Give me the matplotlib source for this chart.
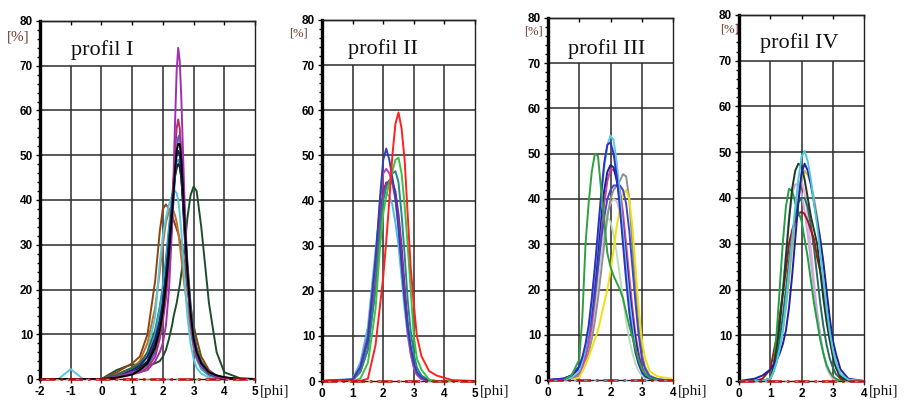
import matplotlib
matplotlib.use("Agg")
import matplotlib.pyplot as plt
from matplotlib.ticker import MultipleLocator

# ---------------- data ----------------
# Panel I  (phi grid, % values)
P1_X = [-2, -1.4, -1, -0.6, 0, 0.5, 1, 1.25, 1.5, 1.75, 1.9, 2, 2.1, 2.2, 2.3, 2.35,
        2.4, 2.45, 2.5, 2.55, 2.6, 2.65, 2.7, 2.8, 2.9, 3, 3.1, 3.25, 3.5, 3.75, 4, 4.5, 5]
P1_DKGREEN2 = [0, 0, 0, 0, 0, 2, 3.3, 3, 3, 3.5, 4, 5, 6.5, 9, 12, 14,
               15.5, 17, 19, 21, 23.5, 26, 29, 36, 41, 43, 42, 34, 17, 6, 1.5, 0.2, 0]
P1_BROWN = [0, 0, 0, 0, 0, 1.5, 3.5, 5, 10, 22, 33, 38, 39, 38, 36.5, 35.5,
            34.5, 33.5, 32.5, 31, 30, 28, 26, 20, 16, 12, 9, 5, 2, 0.7, 0.3, 0, 0]
P1_ORANGE = [0, 0, 0, 0, 0, 1, 2.5, 4, 8, 16, 24, 30, 35, 37.5, 38, 37.5,
             36.5, 35, 33, 30, 27, 24, 21, 16, 11, 7, 4.5, 2.5, 0.8, 0.3, 0, 0, 0]
P1_CYAN = [0, 0, 2.2, 0, 0, 0.5, 2, 3, 6, 14, 26, 32, 36, 39, 41, 42,
           42, 41.5, 40, 37, 33, 28, 23, 14, 8, 4.5, 2.5, 1.2, 0.3, 0, 0, 0, 0]
P1_DKGREEN = [0, 0, 0, 0, 0, 1, 2.5, 3.5, 6, 11, 16, 20, 26, 33, 40, 43,
              45.5, 47, 48, 47.5, 45, 41, 36, 26, 17, 11, 7, 4, 1.5, 0.7, 0.3, 0, 0]
P1_TEAL = [0, 0, 0, 0, 0, 0.5, 2, 3, 5, 10, 16, 21, 27, 34, 41, 44,
           47, 48.5, 49, 48, 45, 40, 34, 22, 13, 7.5, 4.5, 2.2, 0.8, 0.3, 0, 0, 0]
P1_BLACK2 = [0, 0, 0, 0, 0, 0.5, 1.5, 2.5, 4, 8, 13, 17, 23, 30, 38, 42,
             45.5, 47.5, 48, 47.5, 45, 40, 35, 24, 15, 9, 5.5, 3, 1.2, 0.5, 0.2, 0, 0]
P1_NAVY = [0, 0, 0, 0, 0, 0.5, 2, 3, 5, 9, 13, 17, 23, 31, 39, 44,
           48, 50, 51, 50, 46, 40, 33, 22, 14, 9, 5, 3, 1.2, 0.5, 0.2, 0, 0]
P1_BLACK = [0, 0, 0, 0, 0, 0.3, 1, 2, 3.5, 7, 11, 15, 21, 28, 37, 42,
            47, 51, 52.5, 52.5, 49, 43, 36, 24, 15, 9, 6, 3.5, 1.5, 0.8, 0.4, 0, 0]
P1_BLUE = [0, 0, 0, 0, 0, 0.5, 1.5, 2, 3, 6, 10, 14, 19, 26, 35, 40,
           46, 51, 54, 54.5, 51, 45, 38, 25, 16, 10, 6, 3.5, 1.5, 0.8, 0.3, 0, 0]
P1_MAROON = [0, 0, 0, 0, 0, 0.3, 1, 1.5, 2.5, 5, 9, 13, 18, 26, 37, 44,
             51, 56, 58, 56, 50, 43, 35, 22, 13, 8, 5, 3, 1.3, 0.5, 0.2, 0, 0]
P1_PURPLE = [0, 0, 0, 0, 0, 0.5, 1.5, 1.5, 2, 4, 6, 8, 12, 20, 34, 46,
             58, 69, 74, 71, 63, 52, 41, 24, 14, 8, 5, 3, 1.2, 0.5, 0.2, 0, 0]

# Panel II
P2_X = [0, 1, 1.25, 1.5, 1.75, 1.9, 2, 2.1, 2.2, 2.3, 2.4, 2.5, 2.6, 2.7, 2.8, 2.9,
        3, 3.1, 3.25, 3.5, 3.75, 4, 4.25, 5]
P2_CYAN = [0, 0.5, 4, 12, 29, 38, 41, 41.5, 41, 39, 35, 30, 23, 16, 10, 6, 3, 1.5, 0.5, 0, 0, 0, 0, 0]
P2_DKPURPLE = [0, 0.3, 3, 10, 26, 37, 42, 44, 44, 44, 42, 37, 30, 21, 13, 7, 3.5, 1.5, 0.5, 0, 0, 0, 0, 0]
P2_MAROON = [0, 0.2, 2, 7, 22, 35, 41, 43.5, 44.5, 44, 41, 36, 28, 20, 12, 7, 3.5, 1.5, 0.5, 0, 0, 0, 0, 0]
P2_TEAL = [0, 0.2, 2, 7, 20, 33, 40, 43, 44, 46, 46.5, 44, 37, 28, 18, 11, 6, 3, 1.2, 0.2, 0, 0, 0, 0]
P2_MAGENTA = [0, 0.3, 3, 9, 26, 40, 46, 47, 46, 44, 40, 34, 26, 18, 11, 6, 3, 1.5, 0.5, 0, 0, 0, 0, 0]
P2_GREEN = [0, 0, 0.5, 4, 16, 30, 37, 41, 44, 46.5, 49, 49.5, 46, 39, 30, 20, 10, 5, 2.5, 0.3, 0, 0, 0, 0]
P2_BLUE = [0, 0.3, 3, 9, 27, 41, 49, 51.5, 49, 45, 41, 34, 26, 18, 12, 7.5, 4, 2, 0.8, 0, 0, 0, 0, 0]
P2_RED = [0, 0, 0, 0.5, 8, 17, 23, 31, 40, 50, 57, 59.5, 56, 49, 37, 25, 17, 10, 5.5, 2.2, 1.2, 0.7, 0.2, 0]

# Panel III
P3_X = [0, 0.5, 0.75, 1, 1.1, 1.2, 1.3, 1.4, 1.5, 1.6, 1.7, 1.8, 1.9, 2, 2.1, 2.2,
        2.3, 2.4, 2.5, 2.6, 2.7, 2.8, 2.9, 3, 3.1, 3.25, 3.5, 3.75, 4]
P3_LTGREEN = [0, 0, 0.5, 2, 4, 7, 11, 16, 22, 28, 32, 35, 36, 35, 32, 28,
              23, 18, 13, 9, 6, 3.5, 2, 1, 0.4, 0, 0, 0, 0]
P3_LTGRAY = [0, 0, 0.3, 1, 2.5, 4.5, 7, 11, 16, 22, 28, 33, 37, 39, 40, 39.5,
             37, 33, 27, 20, 14, 9, 5, 2.5, 1, 0.3, 0, 0, 0]
P3_GRAY = [0, 0, 0.3, 1, 2, 3.5, 6, 9, 13, 18, 24, 30, 36, 40, 42, 43,
           44, 45.5, 45, 40, 30, 20, 12, 6, 3, 1, 0.2, 0, 0]
P3_YELLOW = [0, 0, 0, 0.5, 2, 3.5, 5, 7, 9, 11, 14, 17, 20, 24, 29, 34,
             38, 41, 42, 40, 34, 25, 16, 9, 5, 2, 0.8, 0.5, 0.3]
P3_MAGENTA = [0, 0, 0.5, 1.5, 3, 5, 8, 12, 18, 25, 32, 39, 44, 46.5, 46.5, 45,
              42, 37, 30, 23, 16, 10, 6, 3, 1.5, 0.5, 0, 0, 0]
P3_BLUE2 = [0, 0.3, 1, 3, 5, 7, 10, 14, 19, 25, 31, 36, 40, 42, 43, 43,
            43, 42, 39, 33, 25, 17, 10, 5, 2.5, 0.8, 0.2, 0, 0]
P3_NAVY = [0, 0.3, 1, 2.5, 4, 7, 11, 16, 22, 29, 36, 42, 46, 47.5, 47, 44,
           40, 34, 27, 20, 14, 9, 5, 2.5, 1.2, 0.4, 0, 0, 0]
P3_CYAN = [0, 0, 0.5, 2, 4, 7, 11, 17, 24, 32, 40, 47, 52, 54, 53, 48,
           41, 33, 25, 18, 12, 7, 4, 2, 1, 0.3, 0, 0, 0]
P3_BLUE = [0, 0.3, 1, 3, 5, 8, 12, 18, 25, 33, 41, 48, 52, 52.5, 50, 45,
           38, 30, 22, 15, 10, 6, 3.5, 1.8, 0.8, 0.3, 0, 0, 0]
P3_GREEN = [0, 0, 1, 4.5, 14, 30, 39, 46, 50, 49.5, 42, 35, 28, 25, 23, 21.5,
            20, 18, 15, 12, 9.5, 7, 4.5, 2.5, 1.5, 0.5, 0, 0, 0]

# Panel IV
P4_X = [0, 0.5, 0.75, 1, 1.1, 1.2, 1.3, 1.4, 1.5, 1.6, 1.7, 1.8, 1.9, 2, 2.1, 2.2,
        2.3, 2.4, 2.5, 2.6, 2.7, 2.8, 2.9, 3, 3.1, 3.25, 3.5, 4]
P4_PINK = [0, 0, 0, 0.5, 2, 4, 7, 11, 16, 23, 30, 37, 42, 44, 41, 36,
           29, 22, 15, 10, 6, 3, 1.5, 0.5, 0, 0, 0, 0]
P4_LTPURPLE = [0, 0, 0, 0.5, 3, 7, 13, 20, 28, 36, 41, 43, 43, 41, 37, 32,
               26, 20, 15, 10, 6, 3.5, 2, 1, 0.5, 0, 0, 0]
P4_OLIVE = [0, 0, 0, 0.5, 2, 4, 7, 11, 16, 22, 29, 35, 40, 44, 46, 45,
            43, 40, 36, 31, 25, 19, 13, 8, 4, 1.5, 0.3, 0]
P4_TEAL = [0, 0, 0, 0.5, 2, 5, 9, 14, 20, 26, 32, 36, 39, 40, 40, 38,
           34, 29, 23, 17, 12, 8, 5, 3, 1.5, 0.5, 0, 0]
P4_DKRED = [0, 0, 0.5, 2.5, 6, 9.5, 14, 19, 24, 30, 33, 35, 36.5, 37, 36.5, 35,
            33, 31, 27, 24, 20, 15, 10, 6, 3, 0.5, 0, 0]
P4_GREEN = [0, 0, 0, 0.5, 3, 10, 20, 30, 38, 42, 41.5, 39, 37, 35, 31, 27,
            22, 17, 13, 9, 6, 3.5, 2, 1, 0.5, 0, 0, 0]
P4_BLACK = [0, 0, 0, 0.5, 3, 7, 12, 19, 27, 35, 42, 46, 47.5, 47, 44, 40,
            36, 33, 30, 24, 18, 13, 9, 5.5, 3, 1, 0, 0]
P4_NAVY = [0, 0.5, 1.2, 2.5, 3.5, 4.5, 6, 8, 11, 16, 23, 31, 39, 45.5, 47.5, 46,
           43, 39, 35, 31, 26, 20, 14, 9, 6, 2.5, 0.5, 0]
P4_CYAN = [0, 0, 0, 0.5, 2, 4, 7, 11, 17, 24, 31, 38, 44, 49, 50.3, 48,
           44, 39, 34, 28, 22, 16, 11, 7, 4, 1.5, 0.3, 0]

PANELS = [
    dict(title="profil I", xlim=(-2, 5), x=P1_X, curves=[
        (P1_DKGREEN2, "#1E4D2B"), (P1_BROWN, "#8B4513"), (P1_ORANGE, "#C0702A"),
        (P1_CYAN, "#58C8E0"), (P1_DKGREEN, "#2E6B3A"), (P1_TEAL, "#30A8B8"),
        (P1_BLACK2, "#202020"), (P1_NAVY, "#202080"), (P1_BLUE, "#4060D0"),
        (P1_MAROON, "#B03070"), (P1_PURPLE, "#A030B0"), (P1_BLACK, "#000000")]),
    dict(title="profil II", xlim=(0, 5), x=P2_X, curves=[
        (P2_CYAN, "#50B8E8"), (P2_DKPURPLE, "#7030A0"), (P2_MAROON, "#C02070"),
        (P2_TEAL, "#208A8A"), (P2_MAGENTA, "#B040C0"), (P2_BLUE, "#3040B0"),
        (P2_GREEN, "#40C040"), (P2_RED, "#FF2020")]),
    dict(title="profil III", xlim=(0, 4), x=P3_X, curves=[
        (P3_LTGREEN, "#B8DEB8"), (P3_LTGRAY, "#C8C8C8"), (P3_GRAY, "#909090"),
        (P3_YELLOW, "#F0E010"), (P3_MAGENTA, "#D040A0"), (P3_BLUE2, "#4048C0"),
        (P3_NAVY, "#202090"), (P3_CYAN, "#60C8E8"), (P3_BLUE, "#3030C8"),
        (P3_GREEN, "#30A040")]),
    dict(title="profil IV", xlim=(0, 4), x=P4_X, curves=[
        (P4_PINK, "#E8B0D8"), (P4_LTPURPLE, "#C8A8E0"), (P4_OLIVE, "#C8B440"),
        (P4_TEAL, "#207060"), (P4_DKRED, "#A01818"), (P4_GREEN, "#20A040"),
        (P4_BLACK, "#1C3A28"), (P4_NAVY, "#2020A0"), (P4_CYAN, "#50C8E0")]),
]

# ---------------- layout (pixels) ----------------
W, H = 907, 404
BOXES = [(40, 255, 21, 379), (322, 475, 20, 381), (548, 673, 18, 380), (739, 864, 15, 381)]
TITLE_POS = [(0.29, 0.905), (0.40, 0.905), (0.47, 0.90), (0.48, 0.91)]
PCT_POS = [(18, 37, 11), (298, 33, 9), (533, 32, 9), (729, 29, 9)]

fig = plt.figure(figsize=(W / 100, H / 100), dpi=100)
fig.patch.set_facecolor("white")
GRID_C = "#2a2a2a"

for p, (l, r, t, b), tpos, pct in zip(PANELS, BOXES, TITLE_POS, PCT_POS):
    ax = fig.add_axes([l / W, 1 - b / H, (r - l) / W, (b - t) / H])
    x0, x1 = p["xlim"]
    ax.set_xlim(x0, x1)
    ax.set_ylim(0, 80)
    # grid (white title band between 70 and 80 has no vertical lines)
    ax.vlines(list(range(x0 + 1, x1)), 0, 70, color=GRID_C, lw=1.1, zorder=1)
    ax.hlines(list(range(10, 71, 10)), x0, x1, color=GRID_C, lw=1.1, zorder=1)
    for yv, col in p["curves"]:
        ax.plot(p["x"], yv, color=col, lw=1.4, zorder=3, solid_capstyle="round",
                solid_joinstyle="round")
    ax.axhline(0, color="#C01010", lw=1.8, ls=(0, (6, 2, 1, 2)), zorder=5, clip_on=False)
    ax.axhline(0, color="#8090B0", lw=0.8, ls=(4, (3, 6)), zorder=6, clip_on=False)

    ticks = list(range(x0, x1 + 1))
    ax.set_xticks(ticks)
    ax.set_xticklabels([str(v) for v in ticks], fontweight="bold",
                       fontfamily="Liberation Sans", fontsize=8.5)
    ax.set_yticks(list(range(0, 81, 10)))
    ax.set_yticklabels([str(v) for v in range(0, 81, 10)], fontweight="bold",
                       fontfamily="Liberation Sans", fontsize=8.5)
    ax.yaxis.set_minor_locator(MultipleLocator(2))
    ax.tick_params(axis="x", direction="out", length=3, width=1, pad=2, color="#222")
    ax.tick_params(axis="y", which="major", direction="out", length=3, width=1, pad=2)
    ax.tick_params(axis="y", which="minor", direction="out", length=2, width=1)
    sec = ax.secondary_xaxis("top")
    sec.set_xticks(ticks)
    sec.tick_params(direction="in", length=3, width=1, labeltop=False)
    sec.spines["top"].set_linewidth(1.0)
    for s in ("top", "right", "bottom"):
        ax.spines[s].set_linewidth(1.0)
        ax.spines[s].set_color("#222")
    ax.spines["left"].set_linewidth(2.4)
    ax.spines["left"].set_color("#000")

    ax.text(tpos[0], tpos[1], p["title"], transform=ax.transAxes, ha="center",
            va="baseline", fontsize=16, fontfamily="Liberation Serif", color="#111", zorder=7)
    fig.text(pct[0] / W, 1 - pct[1] / H, "[%]", ha="center", va="center",
             fontsize=pct[2], fontfamily="Liberation Serif", color="#6B3A2A")
    fig.text((r + 5) / W, 1 - 391 / H, "[phi]", ha="left", va="center",
             fontsize=11, fontfamily="Liberation Serif", color="#111")

fig.savefig("out.png", dpi=100, facecolor="white")
